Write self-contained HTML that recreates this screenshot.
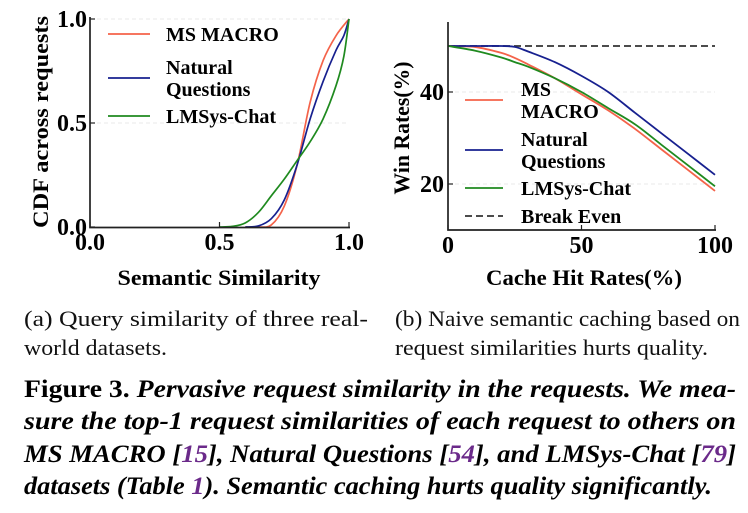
<!DOCTYPE html>
<html><head><meta charset="utf-8"><style>
html,body{margin:0;padding:0;background:#fff;}
svg{display:block;font-family:"Liberation Serif","Times New Roman",serif;}
</style></head><body>
<svg id="fig" width="748" height="513" viewBox="0 0 748 513" xmlns="http://www.w3.org/2000/svg">
<g id="left"></g>
<g id="right"></g>
<g font-size="22" fill="#111">
<text x="24" y="326" textLength="344" lengthAdjust="spacingAndGlyphs">(a) Query similarity of three real-</text>
<text x="24" y="355" textLength="143" lengthAdjust="spacingAndGlyphs">world datasets.</text>
<text x="395" y="326" textLength="345" lengthAdjust="spacingAndGlyphs">(b) Naive semantic caching based on</text>
<text x="395" y="355" textLength="313" lengthAdjust="spacingAndGlyphs">request similarities hurts quality.</text>
</g>
<g font-size="25" font-weight="bold" fill="#000">
<text x="24" y="397" textLength="712" lengthAdjust="spacingAndGlyphs"><tspan font-style="normal">Figure 3.</tspan><tspan font-style="italic"> Pervasive request similarity in the requests. We mea-</tspan></text>
<text x="24" y="429" font-style="italic" textLength="712" lengthAdjust="spacingAndGlyphs">sure the top-1 request similarities of each request to others on</text>
<text x="24" y="462" font-style="italic" textLength="712" lengthAdjust="spacingAndGlyphs">MS MACRO [<tspan fill="#6b2a8a">15</tspan>], Natural Questions [<tspan fill="#6b2a8a">54</tspan>], and LMSys-Chat [<tspan fill="#6b2a8a">79</tspan>]</text>
<text x="24" y="494" font-style="italic" textLength="688" lengthAdjust="spacingAndGlyphs">datasets (Table <tspan fill="#6b2a8a">1</tspan>). Semantic caching hurts quality significantly.</text>
</g>
</svg>
<script>
// Left chart data
const cdfMsX=[0.6,0.65,0.7,0.75,0.8,0.85,0.9,0.95,1.0];
const cdfMsY=[0,0,0.01,0.1,0.3,0.6,0.8,0.92,1.0];
const cdfNqX=[0.6,0.65,0.7,0.75,0.8,0.85,0.9,0.95,0.98,1.0];
const cdfNqY=[0,0.005,0.04,0.13,0.3,0.52,0.7,0.85,0.92,1.0];
const cdfLmX=[0.5,0.55,0.6,0.65,0.7,0.75,0.8,0.85,0.9,0.95,0.98,1.0];
const cdfLmY=[0,0.003,0.02,0.07,0.15,0.23,0.32,0.41,0.52,0.68,0.82,1.0];
const cdfTicks=[0,0.5,1.0];
const cdfTickLabels=["0.0","0.5","1.0"];
// Right chart data
const hitRates=[0,10,20,25,30,40,50,60,70,80,90,100];
const winMs=[50,49.8,48.5,47.4,46,43,39.5,36,32,27.5,23,18.5];
const winNq=[50,50,50,49.8,48.8,46.5,43.5,40,35.5,31,26.5,22];
const winLm=[50,49,47.5,46.5,45.5,43,40,36.5,33,28.5,24,19.5];
const breakEven=50;
const hitTicks=[0,50,100];
const winTicks=[20,40];

const NS="http://www.w3.org/2000/svg";
function mk(p,tag,at){const e=document.createElementNS(NS,tag);for(const k in at)e.setAttribute(k,at[k]);p.appendChild(e);return e;}
function smooth(pts){let d="M"+pts[0][0]+","+pts[0][1];for(let i=0;i<pts.length-1;i++){const p0=pts[Math.max(i-1,0)],p1=pts[i],p2=pts[i+1],p3=pts[Math.min(i+2,pts.length-1)];const c1=[p1[0]+(p2[0]-p0[0])/6,p1[1]+(p2[1]-p0[1])/6],c2=[p2[0]-(p3[0]-p1[0])/6,p2[1]-(p3[1]-p1[1])/6];d+=" C"+c1[0]+","+c1[1]+" "+c2[0]+","+c2[1]+" "+p2[0]+","+p2[1];}return d;}
const RED="#f4634a",BLUE="#17208f",GREEN="#1f8a1f";

// Left
const L=document.getElementById('left');
const lx=v=>90+v*259, ly=v=>227-v*208;
[0.5,1.0].forEach(v=>{const g=mk(L,'line',{x1:90,x2:349,y1:ly(v),y2:ly(v),stroke:"#e2e2e2","stroke-dasharray":"4 3","stroke-width":0.8});

});
[[cdfMsX,cdfMsY,RED,'cdf-line-ms-macro'],[cdfNqX,cdfNqY,BLUE,'cdf-line-natural-questions'],[cdfLmX,cdfLmY,GREEN,'cdf-line-lmsys-chat']].forEach(s=>{
 const p=mk(L,'path',{d:smooth(s[0].map((x,i)=>[lx(x),ly(s[1][i])])),fill:"none",stroke:s[2],"stroke-width":1.7});
 
 });
let ax=mk(L,'path',{d:"M90,17 V227.5 H350",fill:"none",stroke:"#222","stroke-width":1.7});


cdfTicks.forEach((v,i)=>{
 mk(L,'line',{x1:lx(v),x2:lx(v),y1:227,y2:222,stroke:"#222","stroke-width":1.2});
 mk(L,'line',{x1:90,x2:95,y1:ly(v),y2:ly(v),stroke:"#222","stroke-width":1.2});
 const t=mk(L,'text',{x:lx(v),y:250,"text-anchor":"middle","font-size":24,"font-weight":"bold"});t.textContent=cdfTickLabels[i];
 
 
 const u=mk(L,'text',{x:87,y:ly(v)+8,"text-anchor":"end","font-size":24,"font-weight":"bold"});u.textContent=cdfTickLabels[i];
 
 });
let t1=mk(L,'text',{x:219,y:285,"text-anchor":"middle","font-size":22,"font-weight":"bold",textLength:203,lengthAdjust:"spacingAndGlyphs"});t1.textContent="Semantic Similarity";


let t2=mk(L,'text',{x:0,y:0,"text-anchor":"middle","font-size":22,"font-weight":"bold",transform:"translate(48,122) rotate(-90)",textLength:212,lengthAdjust:"spacingAndGlyphs"});t2.textContent="CDF across requests";


[[RED,34,["MS MACRO"]],[BLUE,78,["Natural","Questions"]],[GREEN,116,["LMSys-Chat"]]].forEach(e=>{
 const g=mk(L,'g',{});
 
 
 mk(g,'line',{x1:108,x2:150,y1:e[1],y2:e[1],stroke:e[0],"stroke-width":1.7});
 e[2].forEach((s,j)=>{const tt=mk(g,'text',{x:166,y:e[1]+7+(e[2].length>1?(j-0.5)*22:0),"font-size":20,"font-weight":"bold"});tt.textContent=s;});});

// Right
const R=document.getElementById('right');
const rx=v=>448+v*2.67, ry=v=>184-(v-20)*4.6;
winTicks.forEach(v=>{const g=mk(R,'line',{x1:448,x2:715,y1:ry(v),y2:ry(v),stroke:"#e2e2e2","stroke-dasharray":"4 3","stroke-width":0.8});

});
let be=mk(R,'line',{x1:rx(0),x2:rx(100),y1:ry(breakEven),y2:ry(breakEven),stroke:"#333","stroke-width":1.8,"stroke-dasharray":"7 4"});


[[winMs,RED,'win-line-ms-macro'],[winNq,BLUE,'win-line-natural-questions'],[winLm,GREEN,'win-line-lmsys-chat']].forEach(s=>{
 const p=mk(R,'path',{d:smooth(hitRates.map((x,i)=>[rx(x),ry(s[0][i])])),fill:"none",stroke:s[1],"stroke-width":1.8});
 
 });
ax=mk(R,'path',{d:"M448,22 V230 H716",fill:"none",stroke:"#222","stroke-width":1.7});


hitTicks.forEach(v=>{mk(R,'line',{x1:rx(v),x2:rx(v),y1:230,y2:225,stroke:"#222","stroke-width":1.2});
 const t=mk(R,'text',{x:rx(v),y:253,"text-anchor":"middle","font-size":24,"font-weight":"bold"});t.textContent=v;
 
 });
winTicks.forEach(v=>{mk(R,'line',{x1:448,x2:453,y1:ry(v),y2:ry(v),stroke:"#222","stroke-width":1.2});
 const t=mk(R,'text',{x:444,y:ry(v)+8,"text-anchor":"end","font-size":24,"font-weight":"bold"});t.textContent=v;
 
 });
t1=mk(R,'text',{x:584,y:285,"text-anchor":"middle","font-size":22,"font-weight":"bold",textLength:196,lengthAdjust:"spacingAndGlyphs"});t1.textContent="Cache Hit Rates(%)";


t2=mk(R,'text',{x:0,y:0,"text-anchor":"middle","font-size":22,"font-weight":"bold",transform:"translate(409,128) rotate(-90)",textLength:133,lengthAdjust:"spacingAndGlyphs"});t2.textContent="Win Rates(%)";


[[RED,100,["MS","MACRO"],""],[BLUE,150,["Natural","Questions"],""],[GREEN,188,["LMSys-Chat"],""],["#333",216,["Break Even"],"7 4"]].forEach(e=>{
 const g=mk(R,'g',{});
 
 
 const ln=mk(g,'line',{x1:465,x2:503,y1:e[1],y2:e[1],stroke:e[0],"stroke-width":1.8});
 if(e[3])ln.setAttribute('stroke-dasharray',e[3]);
 e[2].forEach((s,j)=>{const tt=mk(g,'text',{x:521,y:e[1]+7+(e[2].length>1?(j-0.5)*22:0),"font-size":20,"font-weight":"bold"});tt.textContent=s;});});
</script>
</body></html>
